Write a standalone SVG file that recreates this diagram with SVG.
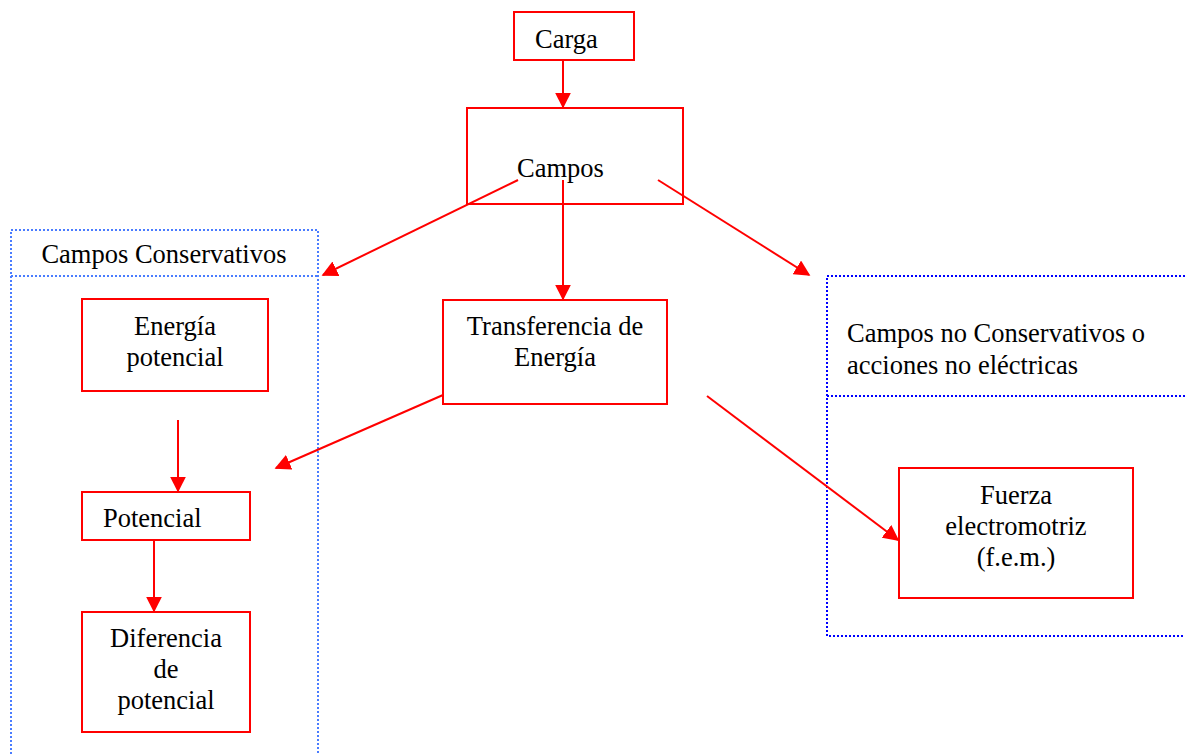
<svg xmlns="http://www.w3.org/2000/svg" width="1185" height="754" viewBox="0 0 1185 754">
<defs>
<style>
.box{fill:#fff;stroke:#ff0000;stroke-width:2}
.t{font-family:'Liberation Serif','Times New Roman','DejaVu Serif',serif;font-size:26.5px;fill:#000}
.c{text-anchor:middle}
.con{fill:none;stroke:#ff0000;stroke-width:2}
.dl{fill:none;stroke:#4a7cff;stroke-width:2;stroke-dasharray:2 2}
.dr{fill:none;stroke:#0000ff;stroke-width:2;stroke-dasharray:2 2}
</style>
<marker id="ah2" viewBox="0 0 10 10" refX="9" refY="5" markerWidth="16" markerHeight="16" markerUnits="userSpaceOnUse" orient="auto">
<path d="M0,0 L10,5 L0,10 Z" fill="#ff0000"/>
</marker>
</defs>
<rect width="1185" height="754" fill="#fff"/>
<g id="conservativos">
<path class="dl" d="M11,754 V230 H318 V754 M11,276 H318"/>
<text class="t" x="164" y="263" text-anchor="middle">Campos Conservativos</text>
</g>
<g id="noconservativos">
<path class="dr" d="M1185,276 H827 V636 H1185 M827,396 H1185"/>
<text class="t" x="847" y="342">Campos no Conservativos o</text>
<text class="t" x="847" y="374">acciones no eléctricas</text>
</g>
<g id="carga">
<rect class="box" x="514" y="12" width="120" height="48"/>
<text class="t" x="535" y="48">Carga</text>
</g>
<g id="campos">
<rect class="box" x="467" y="108" width="216" height="96"/>
<text class="t" x="517" y="177">Campos</text>
</g>
<g id="energia">
<rect class="box" x="82" y="299" width="186" height="92"/>
<text class="t c" x="175" y="335">Energía</text>
<text class="t c" x="175" y="366">potencial</text>
</g>
<g id="transferencia">
<rect class="box" x="443" y="300" width="224" height="104"/>
<text class="t c" x="555" y="335">Transferencia de</text>
<text class="t c" x="555" y="366">Energía</text>
</g>
<g id="potencial">
<rect class="box" x="82" y="492" width="168" height="48"/>
<text class="t" x="103" y="527">Potencial</text>
</g>
<g id="diferencia">
<rect class="box" x="82" y="612" width="168" height="120"/>
<text class="t c" x="166" y="647">Diferencia</text>
<text class="t c" x="166" y="678">de</text>
<text class="t c" x="166" y="709">potencial</text>
</g>
<g id="fuerza">
<rect class="box" x="899" y="468" width="234" height="130"/>
<text class="t c" x="1016" y="504">Fuerza</text>
<text class="t c" x="1016" y="535">electromotriz</text>
<text class="t c" x="1016" y="566">(f.e.m.)</text>
</g>
<g id="connectors">
<line class="con" x1="563" y1="60" x2="563" y2="107" marker-end="url(#ah2)"/>
<line class="con" x1="518" y1="180" x2="323" y2="275" marker-end="url(#ah2)"/>
<line class="con" x1="563" y1="180" x2="563" y2="299" marker-end="url(#ah2)"/>
<line class="con" x1="658" y1="180" x2="809" y2="275" marker-end="url(#ah2)"/>
<line class="con" x1="178" y1="420" x2="178" y2="491" marker-end="url(#ah2)"/>
<line class="con" x1="154" y1="540" x2="154" y2="611" marker-end="url(#ah2)"/>
<line class="con" x1="443" y1="395" x2="276" y2="468" marker-end="url(#ah2)"/>
<line class="con" x1="707" y1="396" x2="898" y2="540" marker-end="url(#ah2)"/>
</g>
</svg>
